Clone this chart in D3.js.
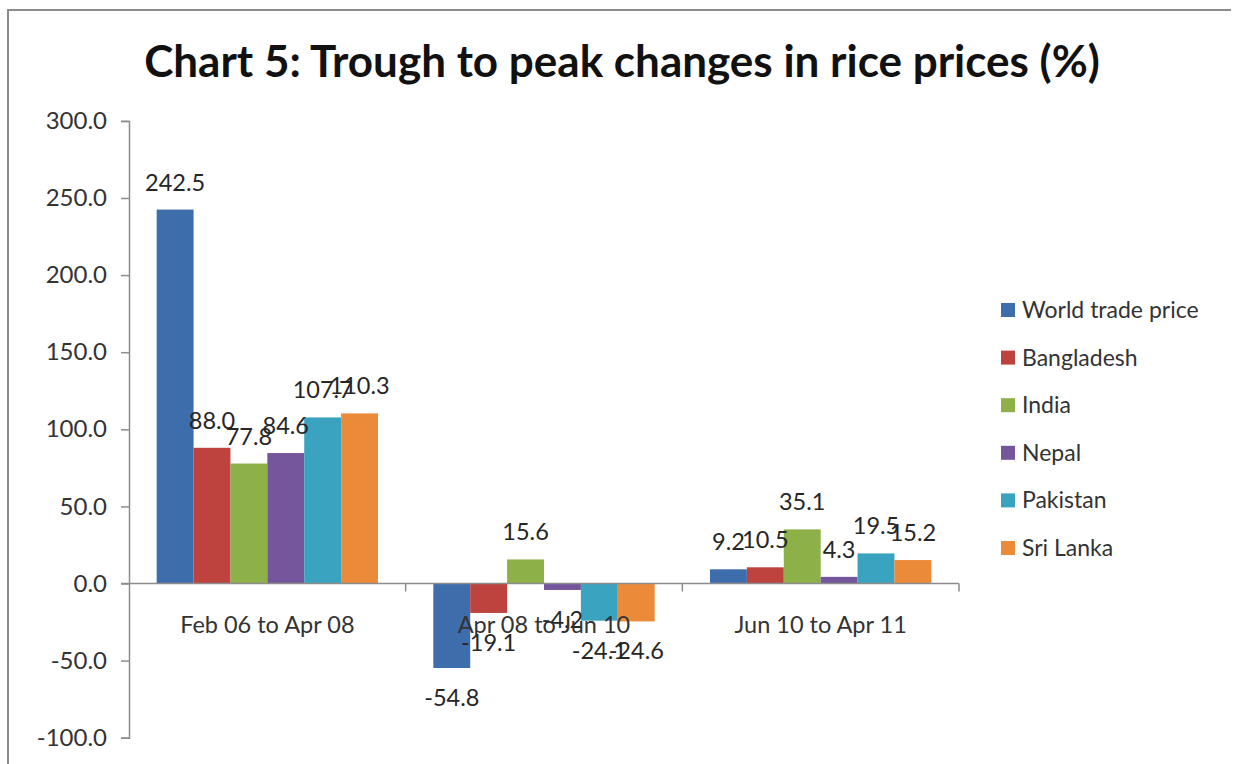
<!DOCTYPE html>
<html>
<head>
<meta charset="utf-8">
<script src="https://cdn.jsdelivr.net/npm/d3@7"></script>
<style>
    body { margin: 0; background: #fff; }
    svg text { font-family: Lato, "Open Sans", sans-serif; }
</style>
</head>
<body>
<div id="chart"></div>
<script>
var categories = ["Feb 06 to Apr 08", "Apr 08 to Jun 10", "Jun 10 to Apr 11"];
var seriesNames = ["World trade price", "Bangladesh", "India", "Nepal", "Pakistan", "Sri Lanka"];
var seriesColors = ["#3e6dac", "#be423e", "#8db048", "#75569c", "#3aa3c0", "#eb8b3a"];

var worldTrade = [242.5, -54.8, 9.2];
var bangladesh = [88.0, -19.1, 10.5];
var india = [77.8, 15.6, 35.1];
var nepal = [84.6, -4.2, 4.3];
var pakistan = [107.7, -24.1, 19.5];
var sriLanka = [110.3, -24.6, 15.2];

var yTicks = [-100, -50, 0, 50, 100, 150, 200, 250, 300];

var seriesValues = [worldTrade, bangladesh, india, nepal, pakistan, sriLanka];

var width = 1233, height = 764;

// plain hyphen for negatives, like the original
var fmt = function(v) { return d3.format(".1f")(v).replace("\u2212", "-"); };

var svg = d3.select("#chart").append("svg")
    .attr("width", width)
    .attr("height", height);

// outer frame (top and left edges visible)
svg.append("path")
    .attr("d", "M8,770 L8,10 L1231,10")
    .attr("fill", "none")
    .attr("stroke", "#8c8c8c")
    .attr("stroke-width", 2);

svg.append("text")
    .attr("x", 622)
    .attr("y", 77)
    .attr("text-anchor", "middle")
    .style("font-size", "44px")
    .style("font-weight", "bold")
    .attr("fill", "#111")
    .text("Chart 5: Trough to peak changes in rice prices (%)");

var x0 = d3.scaleBand().domain(categories).range([129, 959]).padding(0);
var bw = x0.bandwidth();
var gap = bw * 0.2 / 2;
var x1 = d3.scaleBand().domain(seriesNames).range([gap, bw - gap]).padding(0);

var y = d3.scaleLinear().domain([-100, 300]).range([737.7, 120.9]);

var yAxis = d3.axisLeft(y)
    .tickValues(yTicks)
    .tickFormat(fmt)
    .tickSizeOuter(0)
    .tickSize(8)
    .tickPadding(14);

var gy = svg.append("g")
    .attr("transform", "translate(" + x0.range()[0] + ",0)")
    .call(yAxis);
gy.select(".domain").attr("stroke", "#8c8c8c").attr("stroke-width", 1.5);
gy.selectAll(".tick line").attr("stroke", "#8c8c8c").attr("stroke-width", 1.5);
gy.selectAll(".tick text")
    .attr("fill", "#333")
    .style("font-size", "24px");

// bars
var groups = svg.selectAll(".grp")
    .data(categories)
    .enter().append("g")
    .attr("class", "grp")
    .attr("transform", function(d) { return "translate(" + x0(d) + ",0)"; });

groups.selectAll("rect")
    .data(function(c, ci) {
        return seriesNames.map(function(s, si) { return {name: s, v: seriesValues[si][ci], color: seriesColors[si]}; });
    })
    .enter().append("rect")
    .attr("x", function(d) { return x1(d.name); })
    .attr("width", x1.bandwidth())
    .attr("y", function(d) { return y(Math.max(0, d.v)); })
    .attr("height", function(d) { return Math.abs(y(d.v) - y(0)); })
    .attr("fill", function(d) { return d.color; });

// x axis
var xAxis = d3.axisBottom(x0).tickSize(0).tickSizeOuter(0).tickPadding(33);
var gx = svg.append("g")
    .attr("transform", "translate(0," + y(0) + ")")
    .call(xAxis);
gx.select(".domain").remove();
gx.append("line")
    .attr("x1", 121).attr("x2", 959)
    .attr("stroke", "#8c8c8c").attr("stroke-width", 1.5);
gx.selectAll(".sep")
    .data(categories)
    .enter().append("line")
    .attr("class", "sep")
    .attr("x1", function(d) { return x0(d) + bw; })
    .attr("x2", function(d) { return x0(d) + bw; })
    .attr("y1", 0).attr("y2", 8)
    .attr("stroke", "#8c8c8c").attr("stroke-width", 1.5);
gx.selectAll(".tick text")
    .attr("fill", "#333")
    .style("font-size", "23.5px");

// data labels
groups.selectAll(".lbl")
    .data(function(c, ci) {
        return seriesNames.map(function(s, si) { return {name: s, v: seriesValues[si][ci]}; });
    })
    .enter().append("text")
    .attr("class", "lbl")
    .attr("x", function(d) { return x1(d.name) + x1.bandwidth() / 2; })
    .attr("y", function(d) { return d.v >= 0 ? y(d.v) - 19 : y(d.v) + 38; })
    .attr("text-anchor", "middle")
    .attr("fill", "#262626")
    .style("font-size", "23.5px")
    .text(function(d) { return fmt(d.v); });

// legend
var legend = svg.selectAll(".leg")
    .data(seriesNames)
    .enter().append("g")
    .attr("class", "leg")
    .attr("transform", function(d, i) { return "translate(1001," + (310 + i * 47.6) + ")"; });

legend.append("rect")
    .attr("x", 0).attr("y", -7)
    .attr("width", 14).attr("height", 14)
    .attr("fill", function(d, i) { return seriesColors[i]; });

legend.append("text")
    .attr("x", 21)
    .attr("y", 8)
    .attr("fill", "#333")
    .style("font-size", "23px")
    .text(function(d) { return d; });
</script>
</body>
</html>
